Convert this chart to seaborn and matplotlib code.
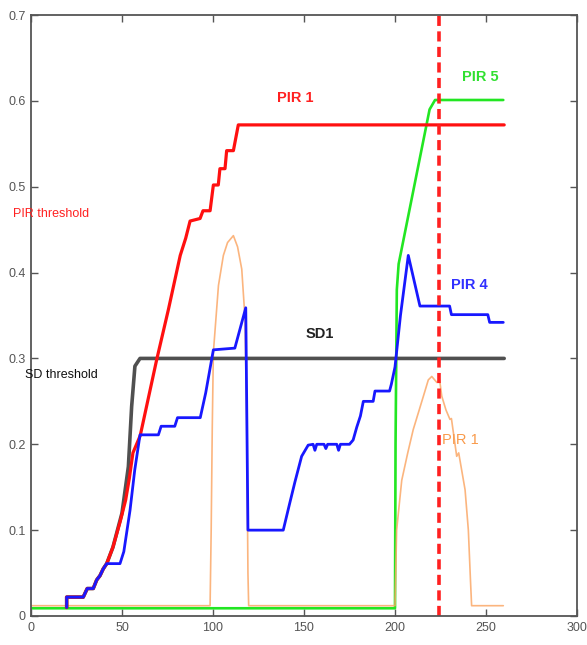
import numpy as np
import pandas as pd
import matplotlib
matplotlib.use("Agg")
import matplotlib.pyplot as plt
import seaborn as sns

# PIR 1 (upper, red)
red_x = [19.6, 19.6, 28.7, 30.9, 34.2, 36.1, 37.9, 39.7, 41.6, 45, 49, 52, 54, 56, 60, 69,
         75.5, 82, 85, 87.4, 92.9, 94.5, 98.4, 100.2, 102.9, 103.8, 106.6, 107.5, 111.2, 113.9, 260]
red_y = [0.01, 0.022, 0.022, 0.032, 0.032, 0.042, 0.047, 0.055, 0.061, 0.08, 0.11, 0.135, 0.16, 0.19,
         0.21, 0.298, 0.357, 0.42, 0.44, 0.46, 0.463, 0.472, 0.472, 0.502, 0.502, 0.521, 0.521, 0.542,
         0.542, 0.572, 0.572]

# SD1 (black)
sd_x = [19.6, 19.6, 28.7, 30.9, 34.2, 36.1, 37.9, 39.7, 41.6, 45, 50, 53.5, 55.3, 57.1, 59.9, 260]
sd_y = [0.01, 0.022, 0.022, 0.032, 0.032, 0.042, 0.047, 0.055, 0.061, 0.08, 0.12, 0.174, 0.244,
        0.291, 0.3, 0.3]

# PIR 4 (blue)
blue_x = [19.6, 19.6, 28.7, 30.9, 34.2, 36.1, 37.9, 39.7, 41.6, 48.9, 51, 54.4, 57, 59.9, 70, 71.5,
          79, 80.5, 93, 96, 100.2, 112, 118, 119.2, 138.6, 142, 145, 148.7, 152.3, 155, 156, 157,
          161, 162, 163, 168, 169, 170, 175, 177, 179, 181, 182.6, 188, 189, 197, 198, 200, 203,
          207.3, 213.7, 230, 231, 251, 252, 259.5]
blue_y = [0.01, 0.022, 0.022, 0.032, 0.032, 0.042, 0.047, 0.055, 0.061, 0.061, 0.075, 0.123, 0.17,
          0.211, 0.211, 0.221, 0.221, 0.231, 0.231, 0.26, 0.31, 0.312, 0.359, 0.1, 0.1, 0.13, 0.156,
          0.186, 0.199, 0.2, 0.193, 0.2, 0.2, 0.195, 0.2, 0.2, 0.193, 0.2, 0.2, 0.205, 0.22, 0.233,
          0.25, 0.25, 0.262, 0.262, 0.27, 0.29, 0.35, 0.42, 0.361, 0.361, 0.351, 0.351, 0.342, 0.342]

# PIR 5 (green)
green_x = [0, 200, 200.3, 201, 202, 219, 222, 259.5]
green_y = [0.009, 0.009, 0.2, 0.38, 0.41, 0.59, 0.601, 0.601]

# PIR 1 (lower, orange)
orange_x = [0, 98.4, 99, 99.6, 100.2, 103, 105.7, 108, 111.2, 113.5, 115.8, 117.6, 118.5, 119.2,
            119.6, 200, 200.9, 203.7, 207, 210, 215.6, 218.3, 220.2, 223, 224.5, 225.7, 228, 230.2,
            231, 233.9, 235, 238.5, 240.3, 241.5, 242.1, 259.5]
orange_y = [0.012, 0.012, 0.1, 0.22, 0.307, 0.385, 0.42, 0.435, 0.443, 0.43, 0.404, 0.346, 0.229,
            0.05, 0.012, 0.012, 0.1, 0.158, 0.19, 0.217, 0.256, 0.275, 0.279, 0.272, 0.275, 0.256,
            0.24, 0.229, 0.23, 0.186, 0.19, 0.147, 0.1, 0.04, 0.012, 0.012]

event_x = 224.2

x_ticks = [0, 50, 100, 150, 200, 250, 300]
y_ticks = [0, 0.1, 0.2, 0.3, 0.4, 0.5, 0.6, 0.7]
y_tick_labels = ["0", "0.1", "0.2", "0.3", "0.4", "0.5", "0.6", "0.7"]

sns.set_style("white")
plt.rcParams['font.family'] = ['Liberation Sans', 'DejaVu Sans']

fig = plt.figure(figsize=(5.87, 6.45), dpi=100)
ax = fig.add_axes([31 / 587, 1 - 616 / 645, 546 / 587, 601 / 645])


def draw(xs, ys, color, lw, alpha=1.0):
    df = pd.DataFrame({"x": xs, "y": ys})
    sns.lineplot(data=df, x="x", y="y", ax=ax, color=color, linewidth=lw,
                 estimator=None, sort=False, alpha=alpha)


draw(green_x, green_y, "#22e622", 1.9)
draw(orange_x, orange_y, "#fba868", 1.2, alpha=0.85)
draw(sd_x, sd_y, "#505050", 2.6)
draw(red_x, red_y, "#ff1010", 2.3)
draw(blue_x, blue_y, "#1818ff", 2.0)
ax.axvline(event_x, color="#ff2020", linewidth=2.6, dashes=(2.8, 1.5))

ax.set_xlim(0, 300)
ax.set_ylim(0, 0.7)
ax.set_xticks(x_ticks)
ax.set_yticks(y_ticks)
ax.set_yticklabels(y_tick_labels)
ax.set_xlabel("")
ax.set_ylabel("")
ax.tick_params(direction="in", length=5, width=1, color="#555555", labelcolor="#555555",
               labelsize=9, top=True, right=True, bottom=True, left=True, pad=4)
for s in ax.spines.values():
    s.set_color("#555555")
    s.set_linewidth(1.3)

bold = dict(fontweight="bold", fontsize=10.5)
ax.text(145, 0.603, "PIR 1", color="#ff2020", ha="center", va="center", **bold)
ax.text(246.7, 0.628, "PIR 5", color="#30e030", ha="center", va="center", **bold)
ax.text(241, 0.386, "PIR 4", color="#3030ff", ha="center", va="center", **bold)
ax.text(158.8, 0.328, "SD1", color="#222222", ha="center", va="center", **bold)
ax.text(235.7, 0.205, "PIR 1", color="#f99a4a", ha="center", va="center", fontsize=10.5)
ax.text(-9.9, 0.468, "PIR threshold", color="#ff2020", ha="left", va="center",
        fontsize=9, clip_on=False)
ax.text(-3.3, 0.281, "SD threshold", color="#111111", ha="left", va="center",
        fontsize=9, clip_on=False)

fig.savefig("out.png", dpi=100)
